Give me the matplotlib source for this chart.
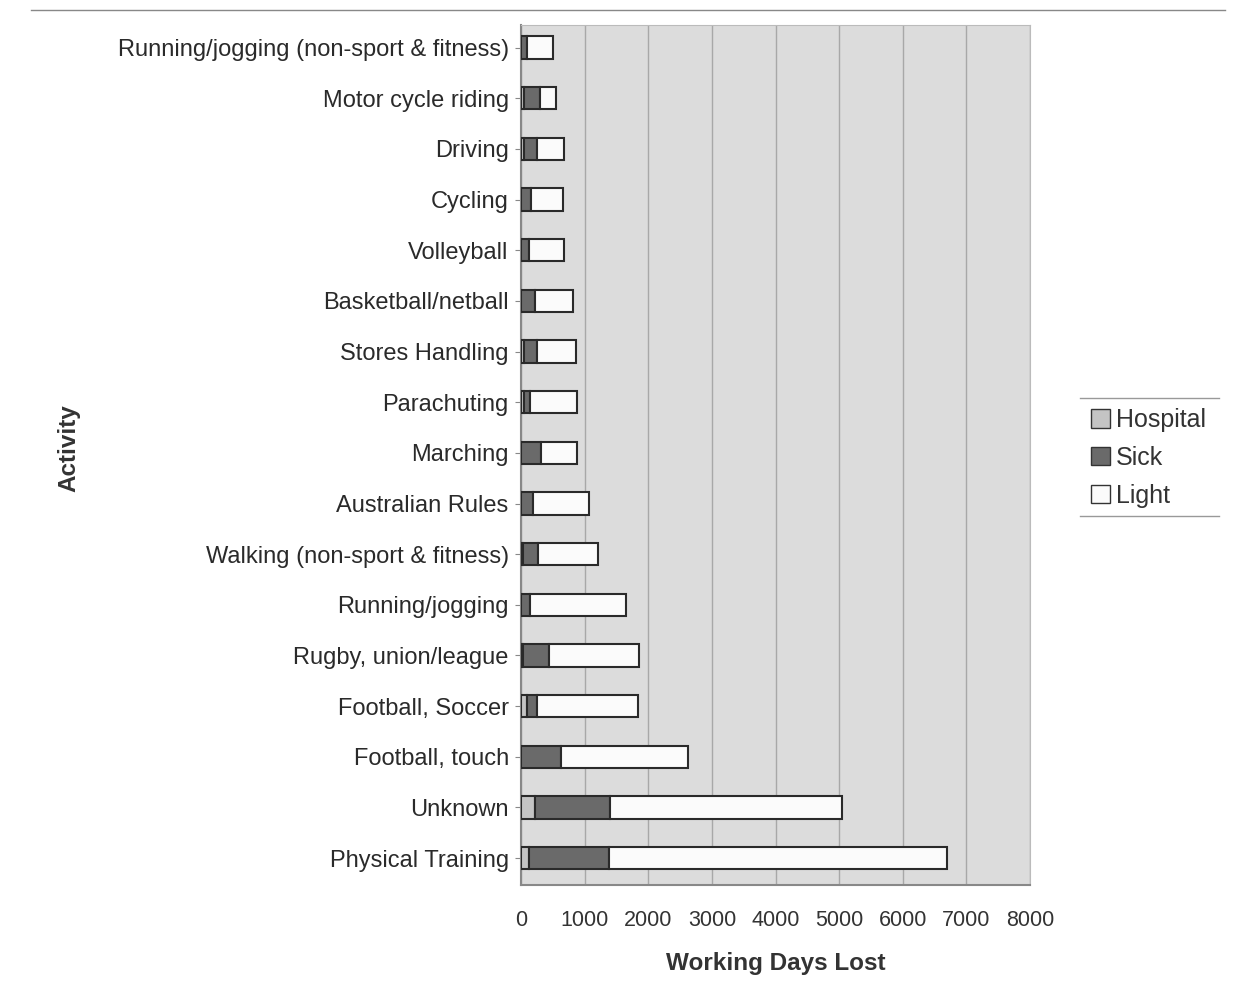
import matplotlib
matplotlib.use("Agg")
import matplotlib.pyplot as plt
from matplotlib.patches import Patch
from matplotlib.lines import Line2D
import numpy as np

activities = ["Physical Training", "Unknown", "Football, touch", "Football, Soccer",
              "Rugby, union/league", "Running/jogging", "Walking (non-sport & fitness)",
              "Australian Rules", "Marching", "Parachuting", "Stores Handling",
              "Basketball/netball", "Volleyball", "Cycling", "Driving",
              "Motor cycle riding", "Running/jogging (non-sport & fitness)"]
hospital = [120, 220, 0, 90, 30, 0, 30, 0, 0, 50, 40, 0, 0, 0, 50, 40, 0]
sick = [1260, 1180, 620, 150, 400, 130, 240, 190, 310, 80, 200, 210, 120, 160, 190, 260, 90]
light = [5320, 3650, 2000, 1590, 1420, 1510, 930, 870, 570, 750, 620, 610, 560, 500, 440, 250, 410]
xticks = [0, 1000, 2000, 3000, 4000, 5000, 6000, 7000, 8000]

plt.rcParams['font.family'] = ['Liberation Sans', 'DejaVu Sans']

fig = plt.figure(figsize=(12.5, 9.91), dpi=100)
ax = fig.add_axes([0.417, 0.107, 0.407, 0.868])
ax.set_facecolor('#dcdcdc')

y = np.arange(len(activities))
h = np.array(hospital)
s = np.array(sick)
l = np.array(light)
kw = dict(height=0.44, edgecolor='#2a2a2a', linewidth=1.5, zorder=3)
ax.barh(y, h, color='#c4c4c4', **kw)
ax.barh(y, s, left=h, color='#6a6a6a', **kw)
ax.barh(y, l, left=h + s, color='#fbfbfb', **kw)

ax.set_xlim(0, 8000)
ax.set_ylim(-0.53, len(activities) - 0.55)
ax.set_xticks(xticks)
ax.set_xticklabels([str(t) for t in xticks], fontsize=15.5, color='#333333')
ax.set_yticks(y)
ax.set_yticklabels(activities, fontsize=17, color='#2a2a2a')
ax.tick_params(axis='y', length=4, color='#888888', pad=5)
ax.tick_params(axis='x', length=0, pad=18)
ax.grid(axis='x', color='#a8a8a8', linewidth=1, zorder=0)
for side in ['top', 'right']:
    ax.spines[side].set_color('#bbbbbb')
for side in ['left', 'bottom']:
    ax.spines[side].set_color('#888888')
    ax.spines[side].set_linewidth(1.5)

ax.set_xlabel('Working Days Lost', fontsize=17.5, fontweight='bold', color='#333333', labelpad=15)
fig.text(0.055, 0.548, 'Activity', rotation=90, fontsize=17.5, fontweight='bold',
         color='#333333', ha='center', va='center')

handles = [Patch(facecolor='#c4c4c4', edgecolor='#333333', label='Hospital'),
           Patch(facecolor='#6a6a6a', edgecolor='#333333', label='Sick'),
           Patch(facecolor='#fbfbfb', edgecolor='#333333', label='Light')]
leg = fig.legend(handles=handles, loc='center left', bbox_to_anchor=(0.855, 0.538),
                 frameon=False, fontsize=18, handlelength=0.75, handleheight=0.75,
                 handletextpad=0.25, labelspacing=0.55)
for t in leg.get_texts():
    t.set_color('#333333')
fig.add_artist(Line2D([0.864, 0.975], [0.598, 0.598], color='#999999', lw=1))
fig.add_artist(Line2D([0.864, 0.975], [0.479, 0.479], color='#999999', lw=1))
fig.add_artist(Line2D([0.025, 0.98], [0.99, 0.99], color='#888888', lw=1))

fig.savefig('out.png', dpi=100)
